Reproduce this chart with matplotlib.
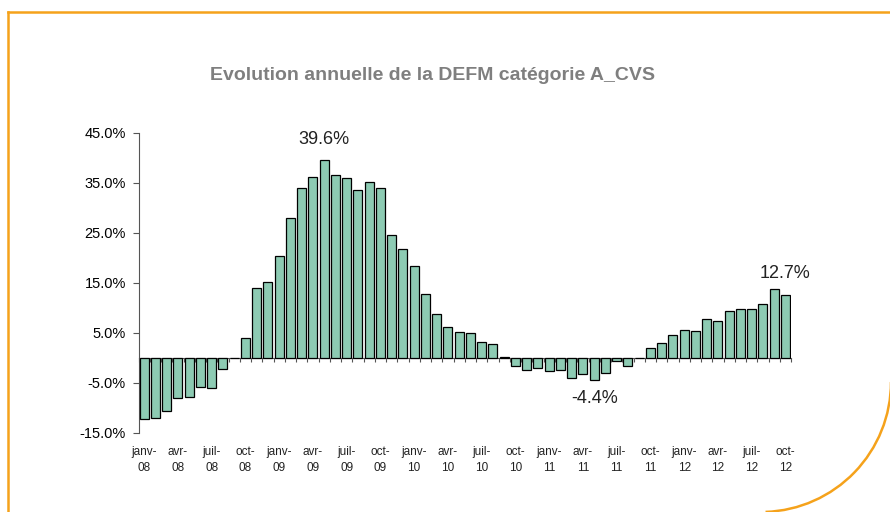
import matplotlib.pyplot as plt
import matplotlib.transforms as mtransforms
from matplotlib.patches import Arc
from matplotlib.lines import Line2D
import numpy as np

plt.rcParams['font.family'] = ['Liberation Sans', 'DejaVu Sans']

# monthly values, janv-08 .. oct-12
values = [
    -12.2, -11.9, -10.5, -8.0, -7.7, -5.7, -6.0, -2.2, 0.0, 4.0, 14.0, 15.3,
    20.5, 28.1, 34.0, 36.3, 39.6, 36.7, 36.0, 33.6, 35.3, 34.0, 24.6, 21.9,
    18.4, 12.9, 8.8, 6.3, 5.3, 5.0, 3.3, 2.9, 0.3, -1.6, -2.3, -1.9,
    -2.6, -2.3, -3.9, -3.2, -4.4, -2.9, -0.5, -1.5, 0.0, 2.0, 3.0, 4.7,
    5.7, 5.4, 7.8, 7.4, 9.5, 9.8, 9.8, 10.9, 13.9, 12.7,
]
months = ["janv-", "avr-", "juil-", "oct-"]
years = ["08", "09", "10", "11", "12"]
tick_labels = [m + "\n" + y for y in years for m in months]
y_ticks = [-15, -5, 5, 15, 25, 35, 45]
notes = {16: "39.6%", 40: "-4.4%", 57: "12.7%"}

title = "Evolution annuelle de la DEFM catégorie A_CVS"
bar_color = "#8DCBB3"
frame_color = "#F5A21B"
axis_color = "#555555"

W, H = 890, 512
fig = plt.figure(figsize=(W / 100, H / 100), dpi=100)
ax = fig.add_axes([138.5 / W, 79 / H, (791 - 138.5) / W, 300 / H])

x = np.arange(len(values))
ax.bar(x, values, width=0.8, color=bar_color, edgecolor="black", linewidth=0.9, zorder=3)

ax.set_xlim(-0.5, len(values) - 0.5)
ax.set_ylim(-15, 45)

for s in ["top", "right"]:
    ax.spines[s].set_visible(False)
ax.spines["bottom"].set_position(("data", 0))
ax.spines["bottom"].set_color(axis_color)
ax.spines["left"].set_color(axis_color)
ax.spines["bottom"].set_zorder(2)

ax.set_yticks(y_ticks)
ax.set_yticklabels([f"{v:.1f}%" for v in y_ticks], fontsize=10.5)
ax.tick_params(axis="y", length=4, width=0.8, color=axis_color, pad=5)

ax.set_xticks(np.arange(len(values) + 1) - 0.5)
ax.set_xticklabels([])
ax.tick_params(axis="x", length=3, width=0.8, color=axis_color)

# category labels sit below the plot area
trans = mtransforms.blended_transform_factory(ax.transData, fig.transFigure)
for i, lab in zip(range(0, len(values), 3), tick_labels):
    ax.text(i, (H - 446) / H, lab, transform=trans, ha="center", va="top",
            fontsize=8.5, linespacing=1.45, color="#222222")

for i, txt in notes.items():
    v = values[i]
    off = 15 if v > 0 else -13
    ax.annotate(txt, (i, v), xytext=(0, off), textcoords="offset points",
                ha="center", va="center", fontsize=13, color="#222222")

fig.text(433 / W, 1 - 75 / H, title, ha="center", va="center",
         fontsize=14, fontweight="bold", color="#7F7F7F")

# orange frame with rounded bottom-right corner
fig.add_artist(Line2D([8 / W, 1], [1 - 12 / H, 1 - 12 / H], transform=fig.transFigure,
                      color=frame_color, linewidth=1.8))
fig.add_artist(Line2D([8 / W, 8 / W], [0, 1 - 12 / H], transform=fig.transFigure,
                      color=frame_color, linewidth=1.8))
fig.add_artist(Arc((7.61, 1.30), 2.6, 2.6, theta1=272, theta2=360,
                   transform=fig.dpi_scale_trans, color=frame_color, linewidth=1.8))

fig.savefig("out.png", dpi=100)
